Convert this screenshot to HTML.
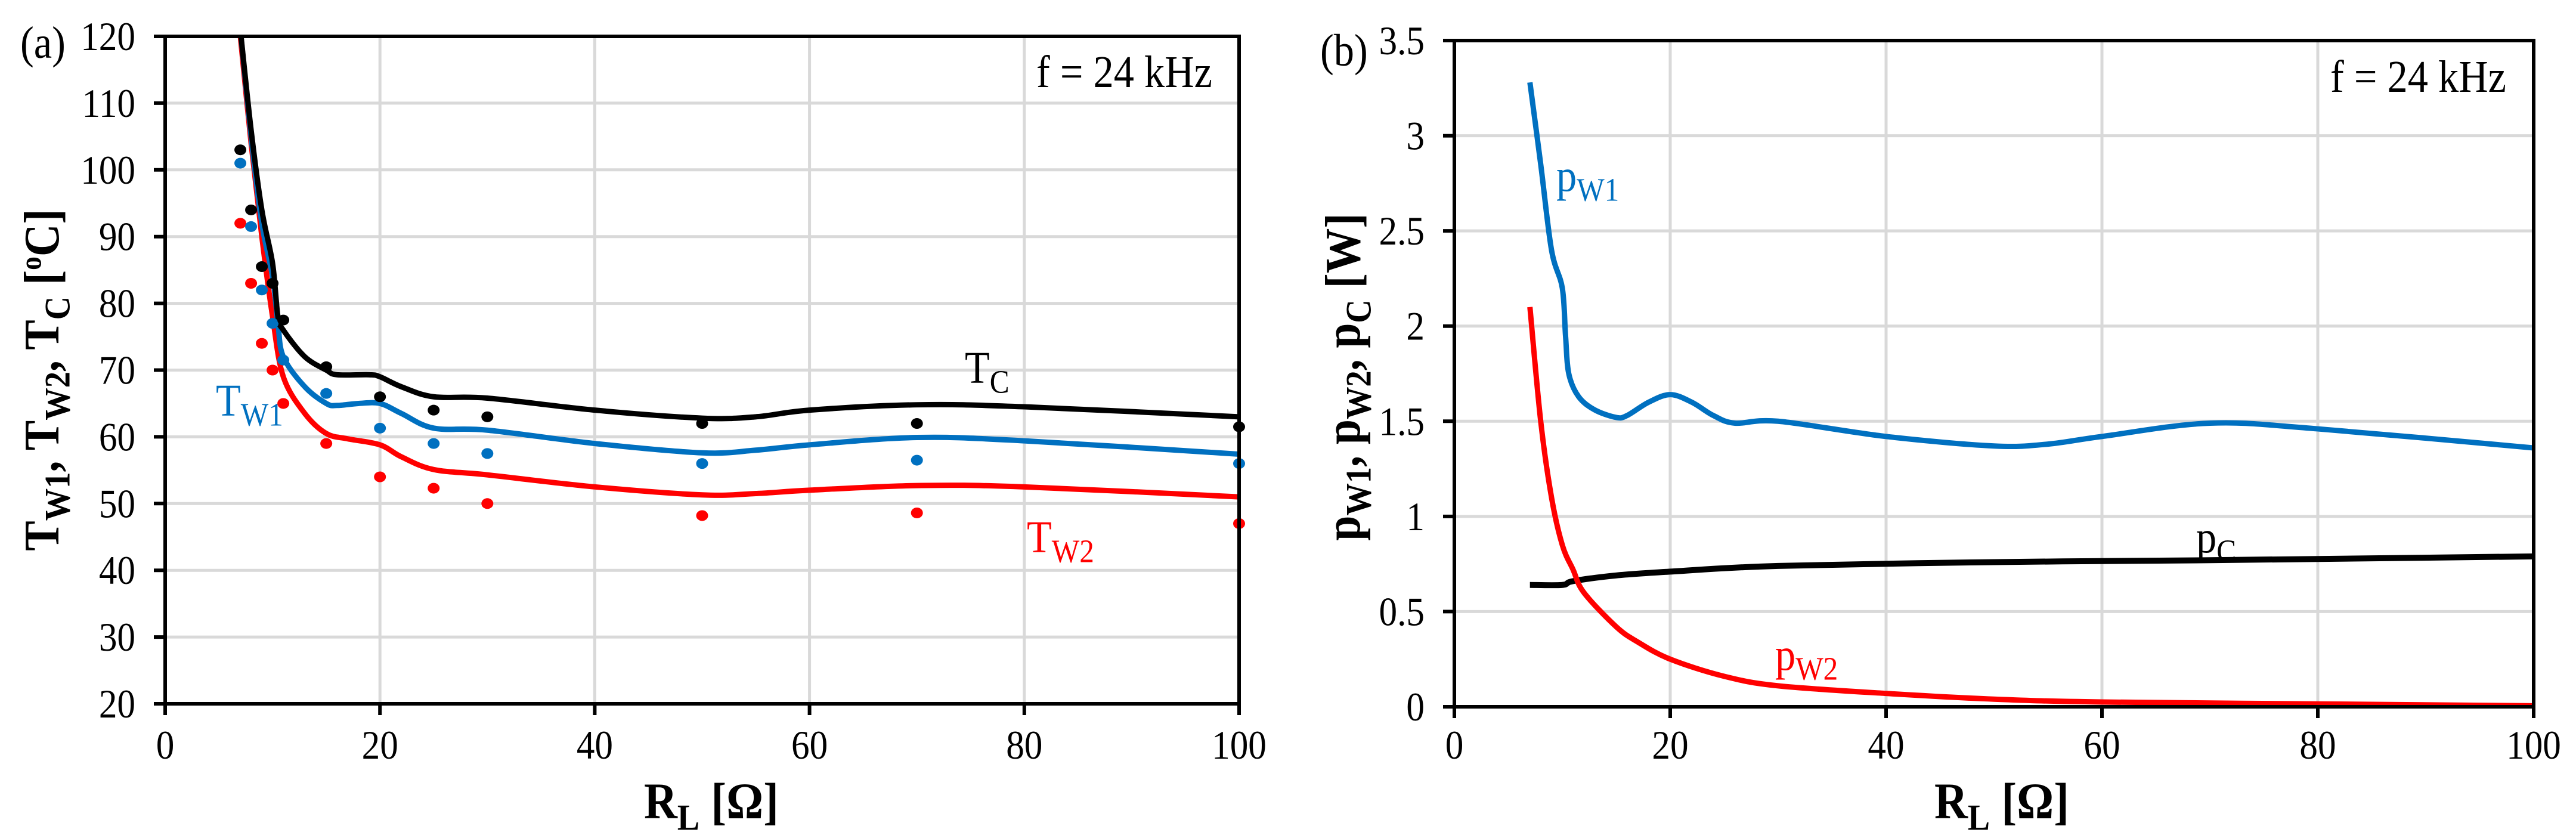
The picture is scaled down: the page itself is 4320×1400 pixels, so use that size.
<!DOCTYPE html>
<html><head><meta charset="utf-8">
<style>
html,body{margin:0;padding:0;background:#fff;}
svg{display:block;}
text{font-family:"Liberation Serif",serif;}
</style></head>
<body>
<svg id="fig" width="4320" height="1400" viewBox="0 0 4320 1400" xmlns="http://www.w3.org/2000/svg">
<rect width="4320" height="1400" fill="#fff"/>
<g id="pa"></g>
<g id="pb"></g>
</svg>
<script>
// ---- Panel (a) data ----
const aXTicks = [0,20,40,60,80,100];
const aYTicks = [20,30,40,50,60,70,80,90,100,110,120];
const aDotX = [7,8,9,10,11,15,20,25,30,50,70,100];
const aDotTC  = [103,94,85.5,83,77.5,70.5,66,64,63,62,62,61.5];
const aDotTW1 = [101,91.5,82,77,71.5,66.5,61.3,59,57.5,56,56.5,56];
const aDotTW2 = [92,83,74,70,65,59,54,52.3,50,48.2,48.6,47];
const aTCx  = [7,8,9,10,10.5,11,13,15,16,19,20,22,25,30,40,50,55,60,70,80,100];
const aTCy  = [121,106,94,86,78,76,72,70,69.3,69.3,69,67.5,66,65.8,64,62.8,63,64,64.8,64.5,63];
const aTW1x = [7,8,9,10,10.5,11,13,15,16,18,20,22,25,30,40,50,55,60,70,80,100];
const aTW1y = [121,105,92,84,77,72,67.5,65,64.7,65,65,63.5,61.3,61,59,57.6,58,58.8,59.9,59.4,57.4];
const aTW2x = [7,8,9,10,11,13,15,17,20,22,25,30,40,50,55,60,70,80,100];
const aTW2y = [120,104,90,78,69,63.5,60.5,59.7,58.8,57,55.1,54.3,52.5,51.3,51.5,52,52.7,52.5,51];
// ---- Panel (b) data ----
const bXTicks = [0,20,40,60,80,100];
const bYTicks = [0,0.5,1,1.5,2,2.5,3,3.5];
const bYTickLabels = ["0","0.5","1","1.5","2","2.5","3","3.5"];
const bPW1x = [7,8,9,10,10.3,10.6,11.5,13,15,16,18,20,22,24,26,30,40,50,55,60,70,80,100];
const bPW1y = [3.28,2.85,2.4,2.2,1.95,1.75,1.63,1.56,1.52,1.53,1.6,1.64,1.6,1.53,1.49,1.5,1.42,1.37,1.38,1.42,1.49,1.46,1.36];
const bPW2x = [7,8,9,10,11,12,15,17,20,25,30,40,50,60,80,100];
const bPW2y = [2.1,1.5,1.1,0.85,0.72,0.6,0.42,0.34,0.25,0.16,0.11,0.07,0.04,0.025,0.015,0.005];
const bPCx = [7,10,11,15,20,30,50,70,100];
const bPCy = [0.64,0.64,0.66,0.69,0.71,0.74,0.76,0.77,0.79];

const NS="http://www.w3.org/2000/svg";
function mk(parent,tag,attrs){const e=document.createElementNS(NS,tag);for(const k in attrs)e.setAttribute(k,attrs[k]);parent.appendChild(e);return e;}

function makeAxes(L,R,T,B,xmin,xmax,ymin,ymax){
  return {x:v=>L+(v-xmin)/(xmax-xmin)*(R-L), y:v=>B-(v-ymin)/(ymax-ymin)*(B-T), L,R,T,B};
}
function smoothPath(xs,ys,ax){
  const p=xs.map((x,i)=>[ax.x(x),ax.y(ys[i])]);
  let d=`M${p[0][0]},${p[0][1]}`;
  for(let i=0;i<p.length-1;i++){
    const p0=p[Math.max(0,i-1)],p1=p[i],p2=p[i+1],p3=p[Math.min(p.length-1,i+2)];
    const t=0.5/3;
    const c1=[p1[0]+(p2[0]-p0[0])*t,p1[1]+(p2[1]-p0[1])*t];
    const c2=[p2[0]-(p3[0]-p1[0])*t,p2[1]-(p3[1]-p1[1])*t];
    d+=` C${c1[0]},${c1[1]} ${c2[0]},${c2[1]} ${p2[0]},${p2[1]}`;
  }
  return d;
}
function label(parent,x,y,txt,anchor,size){
  const t=mk(parent,'text',{x:0,y:0,'font-size':size||66,'text-anchor':anchor||'middle',transform:`translate(${x},${y}) scale(0.9,1)`});
  t.textContent=txt;return t;
}
function frame(g,ax,xt,yt,ytl,clipId){
  xt.forEach(v=>{ if(v>0&&v<100){const l=mk(g,'line',{x1:ax.x(v),x2:ax.x(v),y1:ax.T,y2:ax.B,stroke:'#d9d9d9','stroke-width':5});
    
    }});
  yt.forEach(v=>{ const y=ax.y(v); if(Math.abs(y-ax.T)>2&&Math.abs(y-ax.B)>2){const l=mk(g,'line',{x1:ax.L,x2:ax.R,y1:y,y2:y,stroke:'#d9d9d9','stroke-width':5});
    
    }});
  const cp=mk(g,'clipPath',{id:clipId}); mk(cp,'rect',{x:ax.L,y:ax.T,width:ax.R-ax.L,height:ax.B-ax.T});
}
function axesLines(g,ax,xt,yt,ytl){
  const fr=mk(g,'path',{d:`M${ax.L},${ax.T}H${ax.R}V${ax.B}H${ax.L}Z`,fill:'none',stroke:'#000','stroke-width':6});
  
  
  xt.forEach(v=>{const x=ax.x(v); mk(g,'line',{x1:x,x2:x,y1:ax.B,y2:ax.B+19,stroke:'#000','stroke-width':6});
    const t=label(g,x,1272,String(v),'middle',68);
    
    });
  yt.forEach((v,i)=>{const y=ax.y(v); mk(g,'line',{x1:ax.L-19,x2:ax.L,y1:y,y2:y,stroke:'#000','stroke-width':6});
    const t=label(g,ax.L-50,y+23,ytl?ytl[i]:String(v),'end',68);
    
    });
}
function curve(g,xs,ys,ax,color,w,clip,name){
  const p=mk(g,'path',{d:smoothPath(xs,ys,ax),fill:'none',stroke:color,'stroke-width':w,'stroke-linejoin':'round','clip-path':`url(#${clip})`});
  
  
}
function dots(g,xs,ys,ax,color,name){
  xs.forEach((x,i)=>{const c=mk(g,'ellipse',{cx:ax.x(x),cy:ax.y(ys[i]),rx:10,ry:9,fill:color});
    
    });
}
function richText(g,x,y,size,color,parts,weight,name,rot){
  const t=mk(g,'text',{x:0,y:0,'font-size':size,fill:color,'font-weight':weight||'normal',
    transform:`translate(${x},${y})${rot?' rotate(-90)':''} scale(0.9,1)`,'text-anchor':rot?'middle':'start'});
  
  
  parts.forEach(pt=>{const s=mk(t,'tspan',{});s.textContent=pt[0];
    if(pt[1]==='sub'){s.setAttribute('font-size',size*0.72);s.setAttribute('dy',size*0.22);}
    else if(pt[1]==='sup'){s.setAttribute('font-size',size*0.6);s.setAttribute('dy',-size*0.35);}
    else if(pt[1]==='back'){s.setAttribute('dy',-size*0.22);}
    else if(pt[1]==='backsup'){s.setAttribute('dy',size*0.35);}
  });
  return t;
}

// Panel (a)
const ga=document.getElementById('pa');
const axA=makeAxes(277,2078,61,1180,0,100,20,120);
frame(ga,axA,aXTicks,aYTicks,null,'clipA');
curve(ga,aTW2x,aTW2y,axA,'#ff0000',9,'clipA','tw2-curve');
curve(ga,aTW1x,aTW1y,axA,'#0070c0',9,'clipA','tw1-curve');
curve(ga,aTCx,aTCy,axA,'#000000',9,'clipA','tc-curve');
dots(ga,aDotX,aDotTW2,axA,'#ff0000','tw2-measured-point');
dots(ga,aDotX,aDotTW1,axA,'#0070c0','tw1-measured-point');
dots(ga,aDotX,aDotTC,axA,'#000000','tc-measured-point');
axesLines(ga,axA,aXTicks,aYTicks,null);
richText(ga,1618,642,76,'#000',[['T'],['C','sub']],'normal','tc-label');
richText(ga,362,697,76,'#0070c0',[['T'],['W1','sub']],'normal','tw1-label');
richText(ga,1722,926,76,'#ff0000',[['T'],['W2','sub']],'normal','tw2-label');
richText(ga,1738,146,76,'#000',[['f = 24 kHz']],'normal','frequency-note-a');
richText(ga,34,97,76,'#000',[['(a)']],'normal','panel-a-tag');
richText(ga,1080,1372,86,'#000',[['R'],['L','sub'],[' [Ω]','back']],'bold','x-axis-title-a');
richText(ga,98,637,84,'#000',[['T'],['W1','sub'],[', T','back'],['W2','sub'],[', T','back'],['C','sub'],[' [','back'],['o','sup'],['C]','backsup']],'bold','y-axis-title-a',true);

// Panel (b)
const gb=document.getElementById('pb');
const axB=makeAxes(2439,4249,68,1185,0,100,0,3.5);
frame(gb,axB,bXTicks,bYTicks,bYTickLabels,'clipB');
curve(gb,bPCx,bPCy,axB,'#000000',10,'clipB','pc-curve');
curve(gb,bPW2x,bPW2y,axB,'#ff0000',9,'clipB','pw2-curve');
curve(gb,bPW1x,bPW1y,axB,'#0070c0',9,'clipB','pw1-curve');
axesLines(gb,axB,bXTicks,bYTicks,bYTickLabels);
richText(gb,2610,320,76,'#0070c0',[['p'],['W1','sub']],'normal','pw1-label');
richText(gb,3683,926,76,'#000',[['p'],['C','sub']],'normal','pc-label');
richText(gb,2977,1123,76,'#ff0000',[['p'],['W2','sub']],'normal','pw2-label');
richText(gb,3908,154,76,'#000',[['f = 24 kHz']],'normal','frequency-note-b');
richText(gb,2214,110,76,'#000',[['(b)']],'normal','panel-b-tag');
richText(gb,3244,1372,86,'#000',[['R'],['L','sub'],[' [Ω]','back']],'bold','x-axis-title-b');
richText(gb,2280,632,84,'#000',[['p'],['W1','sub'],[', p','back'],['W2','sub'],[', p','back'],['C','sub'],[' [W]','back']],'bold','y-axis-title-b',true);
</script>
</body></html>
